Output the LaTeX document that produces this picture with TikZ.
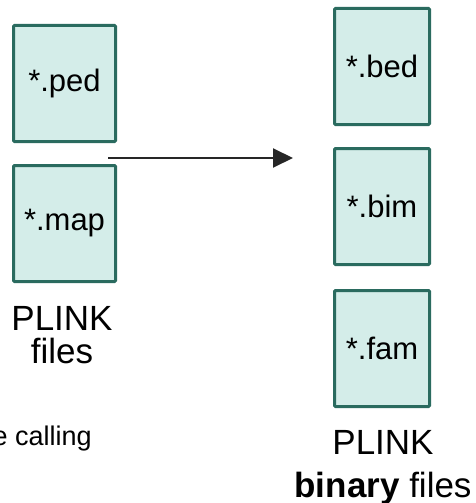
\documentclass[tikz,border=0pt]{standalone}
\usepackage{fontspec}
\setmainfont{Liberation Sans}
\usetikzlibrary{arrows.meta,positioning}

\definecolor{boxline}{HTML}{2A6B5F}
\definecolor{boxfill}{HTML}{D4EDE9}

\begin{document}
\begin{tikzpicture}[x=1pt, y=-1pt, >=Triangle,
    filebox/.style={draw=boxline, fill=boxfill, line width=3pt, rounded corners=1pt,
        minimum height=116pt, inner sep=0pt, font=\fontsize{31}{36}\selectfont},
    leftbox/.style={filebox, minimum width=102pt},
    rightbox/.style={filebox, minimum width=95pt},
    caption/.style={align=center, inner sep=0pt}]

    % Moldura
    \useasboundingbox (0,0) rectangle (476,503);
    \clip (0,0) rectangle (476,503);

    % Arquivos PLINK (texto)
    \node[leftbox] (ped) at (64.5,83.5) {*.ped};
    \node[leftbox] (map) at (64.5,223.5) {*.map};

    % Arquivos PLINK binarios
    \node[rightbox] (bed) at (382,66.5) {*.bed};
    \node[rightbox] (bim) at (382,206.5) {*.bim};
    \node[rightbox] (fam) at (382,348.5) {*.fam};

    % Legendas (base = linha de base da ultima linha)
    \node[caption, anchor=base, font=\fontsize{35}{33}\selectfont] (plinktxt) at (62,363) {PLINK\\files};
    \node[caption, anchor=base, font=\fontsize{35}{43}\selectfont] (plinkbin) at (383,497) {PLINK\\\textbf{binary} files};
    \node[inner sep=0pt, anchor=base east, font=\fontsize{27}{30}\selectfont] (calling) at (92,445) {e calling};

    % Seta de conversao
    \coordinate (src) at (108,158);
    \coordinate (dst) at (293,158);
    \draw[line width=2pt, black!85, arrows={-Triangle[length=20pt, width=19pt]}] (src) -- (dst);

\end{tikzpicture}
\end{document}
